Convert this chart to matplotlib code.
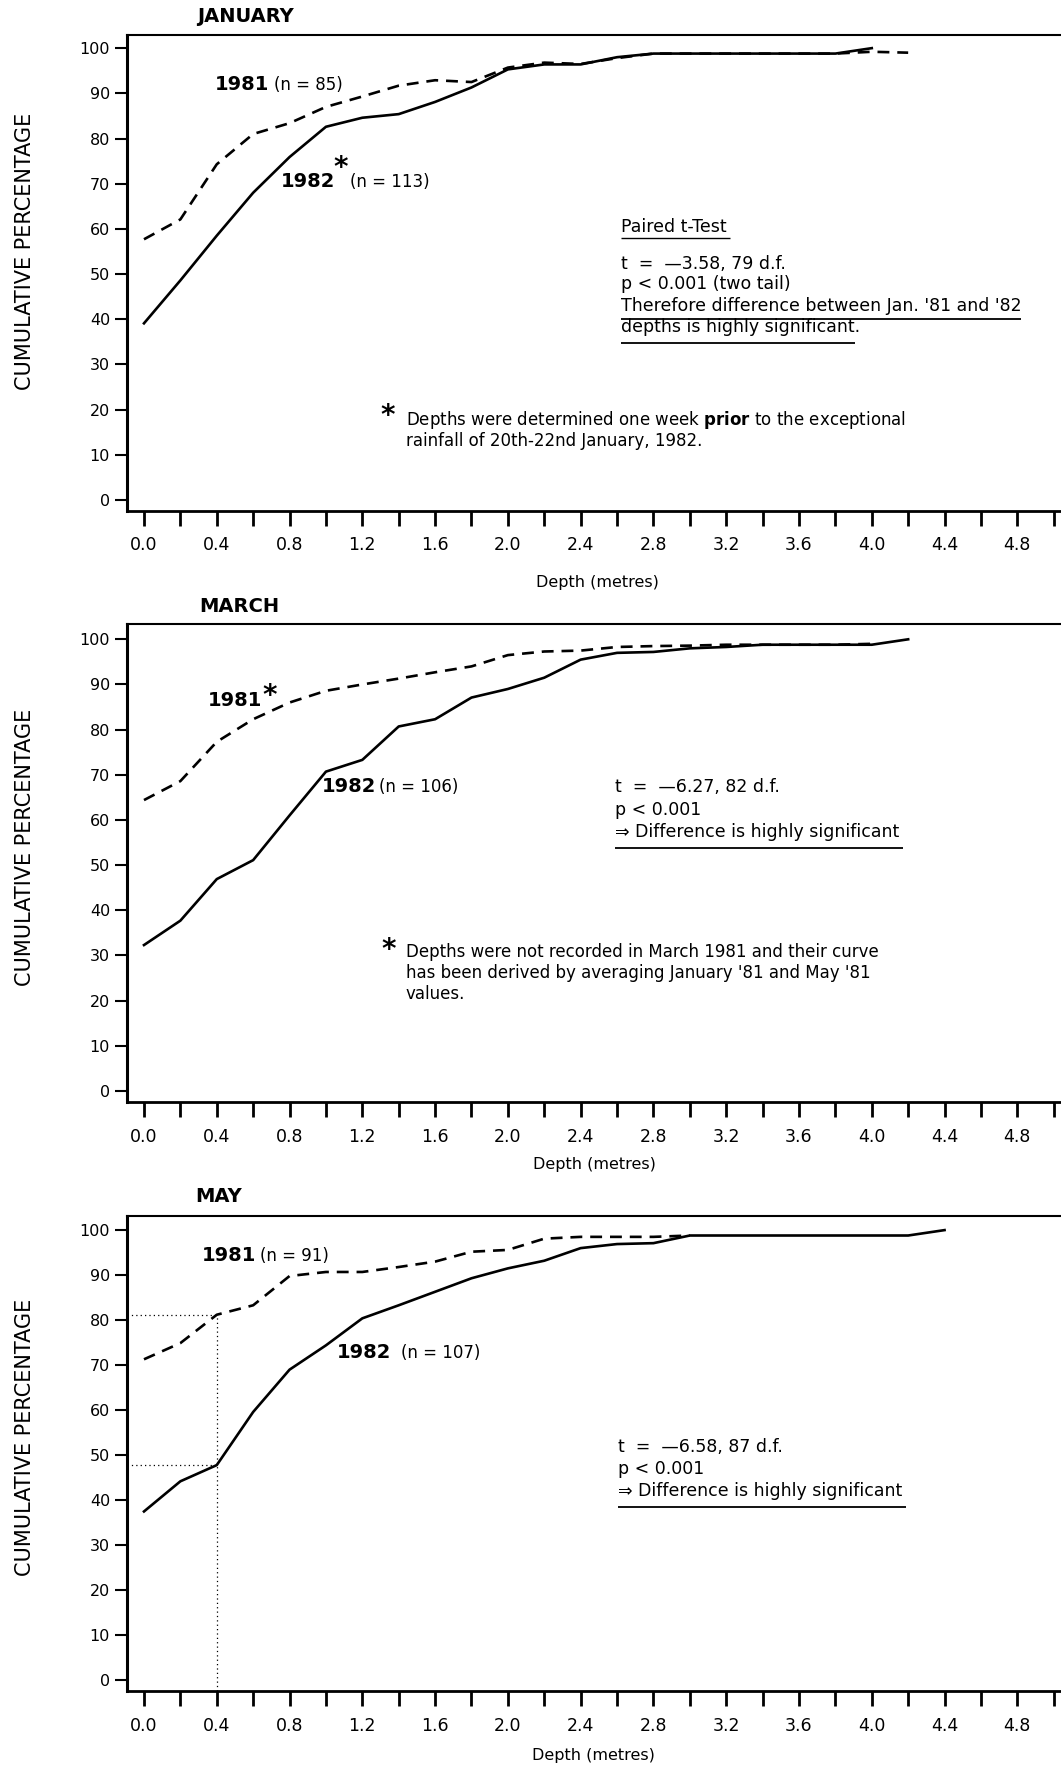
import matplotlib
matplotlib.use("Agg")
import matplotlib.pyplot as plt
from matplotlib.ticker import MultipleLocator, NullFormatter, FormatStrFormatter

plt.rcParams['font.family'] = ['DejaVu Sans']

# depth classes (metres)
depth = [0.0, 0.2, 0.4, 0.6, 0.8, 1.0, 1.2, 1.4, 1.6, 1.8, 2.0,
         2.2, 2.4, 2.6, 2.8, 3.0, 3.2, 3.4, 3.6, 3.8, 4.0, 4.2, 4.4]

# cumulative percentages
jan_81 = [57.7, 62.1, 74.3, 81.0, 83.4, 87.0, 89.3, 91.7, 92.9, 92.5, 95.7,
          96.8, 96.5, 97.8, 98.8, 98.8, 98.8, 98.8, 98.8, 98.8, 99.2, 99.0]
jan_82 = [39.1, 48.6, 58.5, 68.0, 75.9, 82.6, 84.6, 85.4, 88.1, 91.3, 95.3,
          96.4, 96.4, 98.0, 98.8, 98.8, 98.8, 98.8, 98.8, 98.8, 100.0]
mar_81 = [64.4, 68.6, 77.3, 82.3, 86.0, 88.6, 90.0, 91.3, 92.7, 94.0, 96.5,
          97.3, 97.5, 98.3, 98.5, 98.6, 98.8, 98.8, 98.8, 98.8, 99.0]
mar_82 = [32.3, 37.7, 46.9, 51.1, 61.0, 70.7, 73.3, 80.7, 82.3, 87.1, 89.0,
          91.5, 95.5, 97.0, 97.2, 98.0, 98.3, 98.8, 98.8, 98.8, 98.8, 100.0]
may_81 = [71.3, 74.9, 81.2, 83.3, 89.8, 90.7, 90.7, 91.8, 93.0, 95.2, 95.6,
          98.1, 98.5, 98.5, 98.5, 98.8]
may_82 = [37.5, 44.2, 47.8, 59.6, 69.0, 74.4, 80.4, 83.3, 86.3, 89.3, 91.5,
          93.2, 96.0, 96.9, 97.1, 98.8, 98.8, 98.8, 98.8, 98.8, 98.8, 98.8, 100.0]

months = ["JANUARY", "MARCH", "MAY"]

W, H = 1061, 1767
fig = plt.figure(figsize=(W / 100, H / 100), dpi=100)

# panel boxes in pixels: (top, bottom) ; left spine shared
LEFT = 126.7
boxes = [(34.6, 510.7), (624.4, 1102.2), (1215.7, 1691.0)]
ylims = [(-2.37, 103.0), (-2.5, 103.3), (-2.38, 103.2)]
title_pos = [(245, 17), (239, 606.7), (218.5, 1196)]
xlabel_pos = [(597, 583), (594, 1164), (593, 1755)]
ylabel_y = [251, 847, 1437]

DASH = (0, (4.5, 3))


def px(x, y):
    return x / W, 1 - y / H


def setup(ax, ylim):
    ax.set_xlim(-0.095, 5.04)
    ax.set_ylim(*ylim)
    ax.spines['right'].set_visible(False)
    ax.spines['left'].set_linewidth(2.2)
    ax.spines['bottom'].set_linewidth(2.0)
    ax.spines['top'].set_linewidth(1.5)
    ax.xaxis.set_major_locator(MultipleLocator(0.4))
    ax.xaxis.set_minor_locator(MultipleLocator(0.2))
    ax.xaxis.set_major_formatter(FormatStrFormatter('%.1f'))
    ax.xaxis.set_minor_formatter(NullFormatter())
    ax.yaxis.set_major_locator(MultipleLocator(10))
    ax.tick_params(axis='x', which='both', direction='out', length=10.5,
                   width=2.0, pad=8, labelsize=12.5)
    ax.tick_params(axis='y', direction='out', length=9, width=1.5,
                   pad=3, labelsize=11.5)


def star(ax, x, y):
    ax.annotate("*", xy=(x, y), xytext=(0, -6.5), textcoords='offset points',
                ha='center', va='center', fontsize=20, fontweight='bold')


def label(ax, x, y, year, n=None, nx=None):
    ax.text(x, y, year, fontsize=14, fontweight='bold', va='center')
    if n is not None:
        ax.text(nx, y, n, fontsize=12, va='center')


def stats(ax, x, lines, ys):
    for s, y in zip(lines, ys):
        ax.text(x, y, s, fontsize=12.5, va='center')


def underline(ax, x0, x1, y, lw=1.3):
    ax.plot([x0, x1], [y, y], color='black', lw=lw, solid_capstyle='butt')


series = [(jan_81, jan_82), (mar_81, mar_82), (may_81, may_82)]
axes = []
for i, (top, bot) in enumerate(boxes):
    l, b = px(LEFT, bot)
    ax = fig.add_axes([l, b, 1 - l, (bot - top) / H])
    setup(ax, ylims[i])
    s81, s82 = series[i]
    ax.plot(depth[:len(s81)], s81, color='black', lw=1.9, linestyle=DASH)
    ax.plot(depth[:len(s82)], s82, color='black', lw=1.9)
    tx, ty = px(*title_pos[i])
    fig.text(tx, ty, months[i], fontsize=14, fontweight='bold',
             ha='center', va='center')
    lx, ly = px(*xlabel_pos[i])
    fig.text(lx, ly, "Depth (metres)", fontsize=11.5, ha='center', va='center')
    yx, yy = px(25, ylabel_y[i])
    fig.text(yx, yy, "CUMULATIVE PERCENTAGE", fontsize=15, rotation=90,
             ha='center', va='center')
    axes.append(ax)

# January
ax = axes[0]
label(ax, 0.39, 91.9, "1981", "(n = 85)", 0.716)
label(ax, 0.753, 70.4, "1982", "(n = 113)", 1.13)
star(ax, 1.08, 75.5)
stats(ax, 2.62, ["Paired t-Test"], [60.5])
underline(ax, 2.62, 3.22, 58.0, lw=1.0)
stats(ax, 2.62,
      ["t  =  \u20143.58, 79 d.f.", "p < 0.001 (two tail)",
       "Therefore difference between Jan. '81 and '82",
       "depths is highly significant."],
      [52.2, 47.7, 42.9, 38.3])
underline(ax, 2.62, 4.82, 40.1)
underline(ax, 2.62, 3.91, 34.8)
star(ax, 1.34, 20.6)
ax.text(1.44, 17.8, r"Depths were determined one week $\mathbf{prior}$ to the exceptional",
        fontsize=12, va='center')
ax.text(1.44, 13.0, "rainfall of 20th-22nd January, 1982.", fontsize=12, va='center')

# March
ax = axes[1]
label(ax, 0.35, 86.5, "1981")
star(ax, 0.69, 89.4)
label(ax, 0.977, 67.3, "1982", "(n = 106)", 1.29)
stats(ax, 2.587,
      ["t  =  \u20146.27, 82 d.f.", "p < 0.001",
       "\u21d2 Difference is highly significant"],
      [67.3, 62.3, 57.3])
underline(ax, 2.587, 4.17, 53.75)
star(ax, 1.346, 33.2)
for s, y in zip(["Depths were not recorded in March 1981 and their curve",
                 "has been derived by averaging January '81 and May '81",
                 "values."], [30.7, 26.1, 21.5]):
    ax.text(1.438, y, s, fontsize=12, va='center')

# May
ax = axes[2]
label(ax, 0.32, 94.3, "1981", "(n = 91)", 0.64)
label(ax, 1.06, 72.8, "1982", "(n = 107)", 1.415)
stats(ax, 2.605,
      ["t  =  \u20146.58, 87 d.f.", "p < 0.001",
       "\u21d2 Difference is highly significant"],
      [51.9, 47.0, 42.0])
underline(ax, 2.605, 4.19, 38.5)
# reading guides at 0.4 m
gx = depth[2]
x0, _ = ax.get_xlim()
y0, _ = ax.get_ylim()
ax.plot([x0, gx], [may_81[2], may_81[2]], color='black', lw=0.9, linestyle=(0, (1, 2.5)))
ax.plot([x0, gx], [may_82[2], may_82[2]], color='black', lw=0.9, linestyle=(0, (1, 2.5)))
ax.plot([gx, gx], [y0, may_81[2]], color='black', lw=0.9, linestyle=(0, (1, 2.5)))

fig.savefig("out.png", dpi=100)
